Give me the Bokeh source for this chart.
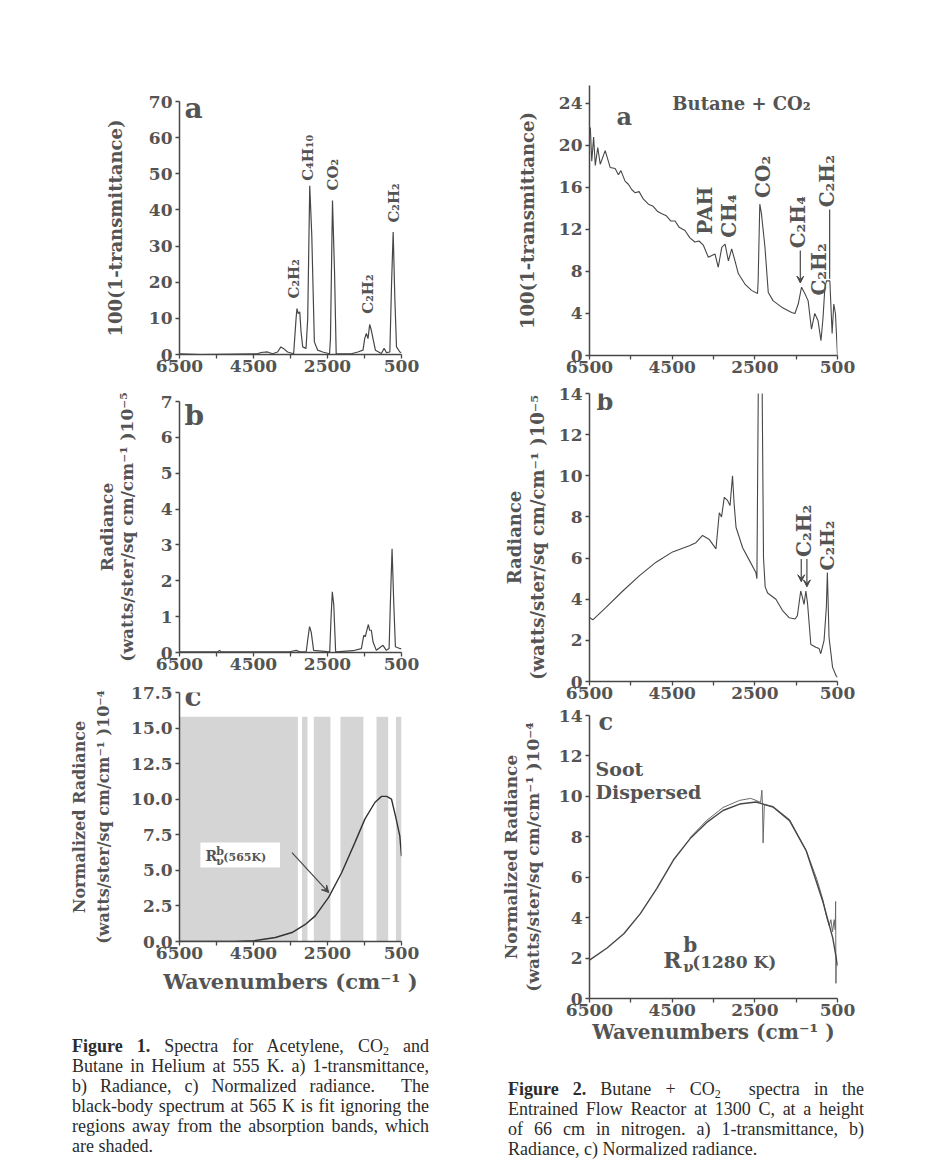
from math import pi
from bokeh.plotting import figure
from bokeh.models import (Range1d, FixedTicker, Label, Arrow, VeeHead,
                          PrintfTickFormatter, BoxAnnotation, Div)
from bokeh.layouts import column, row
from bokeh.embed import file_html
from bokeh.resources import INLINE

# ---------------- data ----------------
X_TICKS = [6500, 5500, 4500, 3500, 2500, 1500, 500]
X_TICK_LABELS = {6500: "6500", 5500: "", 4500: "4500", 3500: "", 2500: "2500", 1500: "", 500: "500"}

# Figure 1 a) 100(1-transmittance)
LA_WN = [6500, 5930, 4390, 4300, 4120, 3985, 3850, 3760, 3670, 3580, 3415, 3350, 3325, 3290, 3250,
         3215, 3170, 3080, 3035, 2980, 2925, 2855, 2765, 2630, 2445, 2420, 2365, 2310, 2265, 1860,
         1680, 1540, 1495, 1450, 1405, 1360, 1315, 1270, 1205, 1045, 970, 905, 815, 770, 725, 680,
         635, 545, 500]
LA_Y = [0.2, 0, 0.2, 0.55, 0.7, 0.2, 0.7, 2.1, 1.5, 0.7, 0.2, 9.9, 12.7, 11.3, 11.8,
        6.3, 2.1, 1.7, 9.9, 46.7, 33, 3.5, 1.2, 0.7, 0.2, 4.4, 42.6, 22.8, 0.2, 0.2,
        0.7, 1.2, 4.4, 5.8, 4.4, 8.3, 6.7, 4.4, 1.2, 0.3, 1.7, 0.5, 0.7, 19.1, 33.9, 15.5,
        2.1, 0.7, 0.5]
LA_YTICKS = [0, 10, 20, 30, 40, 50, 60, 70]

# Figure 1 b) radiance
LB_WN = [6500, 5460, 5418, 5380, 3525, 3345, 3255, 3075, 3030, 2985, 2940, 2875, 2440, 2405, 2370,
         2330, 2280, 1810, 1585, 1520, 1475, 1450, 1395, 1360, 1315, 1270, 1180, 1000, 910, 835,
         800, 755, 710, 665, 547, 500]
LB_Y = [0.02, 0.02, 0.06, 0.02, 0.02, 0.06, 0.02, 0.02, 0.39, 0.72, 0.57, 0.06, 0.02, 0.95, 1.69,
        1.32, 0.02, 0.05, 0.11, 0.48, 0.44, 0.57, 0.78, 0.62, 0.62, 0.3, 0.06, 0.2, 0.06, 0.11,
        1.41, 2.89, 1.41, 0.16, 0.11, 0.11]
LB_YTICKS = [0, 1, 2, 3, 4, 5, 6, 7]

# Figure 1 c) normalized radiance, shaded bands and black-body fit
LC_SHADE_FROM = [6500, 3190, 2870, 2150, 1175, 650]
LC_SHADE_TO = [3300, 3040, 2420, 1530, 860, 500]
LC_SHADE_TOP = [15.8, 15.8, 15.8, 15.8, 15.8, 15.8]
LC_WN = [6500, 5000, 4490, 3910, 3460, 3100, 2830, 2470, 2115, 1760, 1490, 1220, 1040, 900, 770,
         660, 545, 500]
LC_Y = [0, 0, 0.05, 0.28, 0.63, 1.2, 1.8, 3.1, 4.85, 6.95, 8.6, 9.77, 10.2, 10.2, 10.0,
        8.8, 7.4, 6.0]
LC_YTICKS = [0, 2.5, 5, 7.5, 10, 12.5, 15, 17.5]

# Figure 2 a) 100(1-transmittance)
RA_WN = [6500, 6480, 6445, 6400, 6360, 6300, 6240, 6120, 6000, 5880, 5800, 5740, 5640, 5560, 5480,
         5400, 5300, 5200, 5075, 4960, 4850, 4750, 4640, 4530, 4430, 4330, 4190, 4070, 3950, 3850,
         3745, 3625, 3465, 3385, 3300, 3220, 3140, 3060, 2980, 2900, 2740, 2580, 2435, 2420, 2380,
         2340, 2255, 2175, 2055, 1850, 1610, 1530, 1450, 1370, 1290, 1210, 1130, 1050, 970, 900,
         850, 805, 765, 685, 630, 590, 550, 500]
RA_Y = [21.4, 21.7, 18.5, 20.8, 18.1, 19.8, 18.2, 19.5, 17.9, 17.8, 17.2, 17.6, 16.6, 16.3, 15.8,
        15.5, 15.6, 14.9, 14.4, 14.2, 13.7, 13.5, 13.3, 12.8, 12.8, 12.2, 11.9, 11.2, 10.8, 10.9,
        10.5, 9.35, 9.67, 8.4, 10.3, 10.6, 9.0, 10.15, 9.0, 7.8, 6.8, 6.2, 5.9, 7.1, 14.4,
        13.5, 10.3, 6.0, 5.2, 4.6, 4.1, 4.0, 4.9, 6.5, 5.9, 5.2, 2.5, 4.0, 3.3, 1.4,
        3.6, 6.5, 7.1, 7.1, 2.1, 4.9, 4.0, 0]
RA_YTICKS = [0, 4, 8, 12, 16, 20, 24]

# Figure 2 b) radiance
RB_WN = [6500, 6420, 6100, 5695, 5290, 4890, 4490, 4085, 3925, 3765, 3600, 3440, 3360, 3305, 3240,
         3160, 3100, 3040, 3000, 2955, 2795, 2635, 2475, 2450, 2410, 2330, 2290, 2250, 2190, 1990,
         1830, 1670, 1525, 1470, 1390, 1350, 1310, 1265, 1225, 1145, 1025, 945, 905, 865, 825,
         770, 745, 705, 620, 540, 500]
RB_Y = [3.12, 3.0, 3.6, 4.4, 5.15, 5.8, 6.3, 6.6, 6.75, 7.1, 6.9, 6.45, 8.2, 8.0, 8.95,
        8.8, 8.55, 10.0, 8.6, 7.5, 6.5, 5.9, 5.3, 5.0, 16, 16, 6.0, 4.6, 4.3, 4.0,
        3.45, 3.1, 3.04, 3.2, 4.4, 4.1, 3.75, 4.4, 3.8, 1.8, 1.67, 1.6, 1.35, 1.67, 2.0,
        3.6, 5.3, 2.15, 0.7, 0.3, 0.2]
RB_YTICKS = [0, 2, 4, 6, 8, 10, 12, 14]

# Figure 2 c) normalized radiance: measured and black-body fit (1280 K)
RC_FIT_WN = [6500, 6075, 5670, 5270, 4870, 4470, 4070, 3670, 3270, 2870, 2470, 2060, 1660, 1255,
             855, 615, 500]
RC_FIT_Y = [1.9, 2.5, 3.2, 4.2, 5.45, 6.85, 7.9, 8.7, 9.3, 9.62, 9.72, 9.47, 8.8, 7.3,
            4.8, 3.0, 1.65]
RC_MEAS_WN = [4070, 3670, 3270, 2870, 2600, 2470, 2360, 2330, 2315, 2300, 2270, 2060, 1660, 1255,
              1000, 855, 760, 700, 660, 620, 580, 555, 545, 538, 530, 500]
RC_MEAS_Y = [7.95, 8.8, 9.45, 9.8, 9.9, 9.8, 9.7, 10.3, 9.6, 7.7, 9.6, 9.5, 8.85, 7.3,
             5.9, 4.9, 4.0, 3.6, 3.9, 3.3, 3.9, 3.4, 4.8, 0.75, 2.0, 1.6]
RC_YTICKS = [0, 2, 4, 6, 8, 10, 12, 14]

# ---------------- styling ----------------
FONT = "DejaVu Serif"
CAP = "Liberation Serif"
INK = "#474747"
TXT = "#545454"
CAPTXT = "#2b2b2b"


def panel(w, h, bl, br, bt, bb, ymax, yticks, ylabel, ystand, ysize=18, ylh=0.95, yfmt=None,
          xlabel=None, xsize=20, xstand=5):
    p = figure(width=w, height=h, x_range=Range1d(6500, 500), y_range=Range1d(0, ymax),
               output_backend="svg", toolbar_location=None, title=None,
               min_border_left=bl, min_border_right=br, min_border_top=bt, min_border_bottom=bb)
    p.outline_line_color = None
    p.xgrid.visible = False
    p.ygrid.visible = False
    p.background_fill_color = "white"
    p.border_fill_color = "white"
    for ax in (p.xaxis[0], p.yaxis[0]):
        ax.axis_line_color = INK
        ax.axis_line_width = 1.5
        ax.major_tick_line_color = INK
        ax.major_tick_line_width = 1.3
        ax.major_tick_in = 0
        ax.major_tick_out = 4
        ax.minor_tick_line_color = None
        ax.major_label_text_font = FONT
        ax.major_label_text_font_style = "bold"
        ax.major_label_text_color = TXT
        ax.major_label_text_font_size = "17px"
        ax.axis_label_text_font = FONT
        ax.axis_label_text_font_style = "bold"
        ax.axis_label_text_color = TXT
    p.xaxis.ticker = FixedTicker(ticks=X_TICKS)
    p.xaxis.major_label_overrides = X_TICK_LABELS
    p.xaxis.major_label_standoff = 1
    p.yaxis.ticker = FixedTicker(ticks=yticks)
    p.yaxis.major_label_standoff = 3
    if yfmt:
        p.yaxis.formatter = PrintfTickFormatter(format=yfmt)
    p.yaxis.axis_label = ylabel
    p.yaxis.axis_label_text_font_size = f"{ysize}px"
    p.yaxis.axis_label_standoff = ystand
    p.yaxis.axis_label_text_line_height = ylh
    if xlabel:
        p.xaxis.axis_label = xlabel
        p.xaxis.axis_label_text_font_size = f"{xsize}px"
        p.xaxis.axis_label_standoff = xstand
    return p


def lab(p, x, y, text, size, dx=0, dy=0, angle=0.0, align="left", base="alphabetic",
        bold=True, font=FONT, color=TXT):
    # "alphabetic" positions are given as baselines; draw them centred on the cap height
    if base == "alphabetic":
        base = "middle"
        dy = dy + 0.36 * size
    p.add_layout(Label(x=x, y=y, x_offset=dx, y_offset=dy, text=text, angle=angle,
                       text_align=align, text_baseline=base, text_font=font,
                       text_font_size=f"{size}px",
                       text_font_style="bold" if bold else "normal", text_color=color))


def arrow(p, x0, y0, x1, y1, head=True):
    end = VeeHead(size=7, fill_color=INK, line_color=INK, line_width=1) if head else None
    p.add_layout(Arrow(end=end, x_start=x0, y_start=y0, x_end=x1, y_end=y1,
                       line_color=INK, line_width=1.2))


UP = pi / 2
RAD5 = "Radiance\n(watts/ster/sq cm/cm⁻¹ )10⁻⁵"
RAD4 = "Normalized Radiance\n(watts/ster/sq cm/cm⁻¹ )10⁻⁴"
WAVE = "Wavenumbers (cm⁻¹ )"

# ---------------- Figure 1 (left column, width 468) ----------------
la = panel(468, 385, 179, 67, 101, 31, 70, LA_YTICKS, "100(1-transmittance)", 20)
la.line(LA_WN, LA_Y, color=INK, line_width=1.2)
lab(la, 6500, 70, "a", 28, dx=5, dy=-17)
for t, x, y in [("C₂H₂", 3405, 15.5), ("C₄H₁₀", 3025, 48.1), ("CO₂", 2338, 45.4),
                ("C₂H₂", 1396, 11.3), ("C₂H₂", 690, 36.5)]:
    lab(la, x, y, t, 15, angle=UP, base="middle")

lb = panel(468, 293, 179, 67, 16, 26, 7, LB_YTICKS, RAD5, 21, ysize=17, ylh=1.0)
lb.line(LB_WN, LB_Y, color=INK, line_width=1.2)
lab(lb, 6500, 7, "b", 28, dx=5, dy=-24)

lc = panel(468, 322, 179, 67, 14, 59, 17.5, LC_YTICKS, RAD4, 15, ysize=16, ylh=1.25,
           yfmt="%.1f", xlabel=WAVE, xsize=21, xstand=7)
lc.quad(left=LC_SHADE_FROM, right=LC_SHADE_TO, bottom=0, top=LC_SHADE_TOP,
        fill_color="#d5d5d5", line_color=None)
lc.line(LC_WN, LC_Y, color="#333333", line_width=1.4)
lab(lc, 6500, 17.5, "c", 28, dx=5, dy=-14)
lc.add_layout(BoxAnnotation(left=5935, right=3783, bottom=5.2, top=6.96,
                            fill_color="white", fill_alpha=1.0, line_color=None))
lab(lc, 5800, 5.62, "R", 14)
lab(lc, 5505, 6.04, "b", 11)
lab(lc, 5505, 5.34, "ν", 11)
lab(lc, 5316, 5.62, "(565K)", 11)
arrow(lc, 3460, 6.25, 2465, 3.44)

# ---------------- Figure 2 (right column, width 456) ----------------
ra = panel(456, 381, 121, 87, 85, 26, 25.7, RA_YTICKS, "100(1-transmittance)", 18)
ra.line(RA_WN, RA_Y, color=INK, line_width=1.1)
lab(ra, 6500, 24, "a", 24, dx=27, dy=-22)
lab(ra, 2822, 24, "Butane + CO₂", 18, align="center", base="middle")
for t, x, y in [("PAH", 3717, 11.5), ("CH₄", 3136, 11.2), ("CO₂", 2313, 15.0),
                ("C₂H₄", 1450, 10.2), ("C₂H₂", 958, 5.7), ("C₂H₂", 760, 14.1)]:
    lab(ra, x, y, t, 20, angle=UP, base="middle")
arrow(ra, 1400, 10.0, 1400, 6.9)
arrow(ra, 690, 13.9, 690, 7.3, head=False)

rb = panel(456, 325, 121, 87, 12, 25, 14, RB_YTICKS, RAD5, 8, ylh=1.1)
rb.line(RB_WN, RB_Y, color=INK, line_width=1.1)
lab(rb, 6500, 14, "b", 24, dx=7, dy=-17)
lab(rb, 1321, 6.05, "C₂H₂", 20, angle=UP, base="middle")
lab(rb, 760, 5.4, "C₂H₂", 19, angle=UP, base="middle")
arrow(rb, 1377, 5.95, 1377, 4.85)
arrow(rb, 1240, 5.95, 1240, 4.6)

rc = panel(456, 354, 121, 87, 9, 62, 14, RC_YTICKS, RAD4, 13, ysize=17, ylh=1.1,
           xlabel=WAVE, xsize=20, xstand=1)
rc.line(RC_MEAS_WN, RC_MEAS_Y, color="#6a6a6a", line_width=1.0)
rc.line(RC_FIT_WN, RC_FIT_Y, color=INK, line_width=1.4)
lab(rc, 6500, 14, "c", 24, dx=9, dy=-15)
lab(rc, 6355, 11.0, "Soot", 19)
lab(rc, 6355, 9.9, "Dispersed", 19)
lab(rc, 4717, 1.49, "R", 22)
lab(rc, 4234, 2.28, "b", 20)
lab(rc, 4234, 1.29, "ν", 15)
lab(rc, 4017, 1.49, "(1280 K)", 17)


# ---------------- captions ----------------
SUB2 = '<sub style="font-size:12px;line-height:0;vertical-align:-3px">2</sub>'


def caption(w, h, left, top, text_w, lines):
    rows = []
    for i, txt in enumerate(lines):
        last = i == len(lines) - 1
        align = "left" if last else "justify"
        rows.append(f'<div style="margin:0;padding:0;height:20px;white-space:normal;'
                    f'text-align:justify;text-align-last:{align};">{txt}</div>')
    html = (f'<div style="position:relative;width:{w}px;height:{h}px;margin:0;">'
            f'<div style="position:absolute;left:{left}px;top:{top}px;width:{text_w}px;'
            f"font-family:'{CAP}';font-size:18px;line-height:20px;color:{CAPTXT};\">"
            + "".join(rows) + "</div></div>")
    return Div(text=html, width=w, height=h, margin=(0, 0, 0, 0))


cap1 = caption(468, 160, 72, 36, 357, [
    f"<b>Figure 1.</b> Spectra for Acetylene, CO{SUB2} and",
    "Butane in Helium at 555 K. a) 1-transmittance,",
    "b) Radiance, c) Normalized radiance. &nbsp;The",
    "black-body spectrum at 565 K is fit ignoring the",
    "regions away from the absorption bands, which",
    "are shaded.",
])
cap2 = caption(456, 100, 40, 19, 356, [
    f"<b>Figure 2.</b> Butane + CO{SUB2} &nbsp;spectra in the",
    "Entrained Flow Reactor at 1300 C, at a height",
    "of 66 cm in nitrogen. a) 1-transmittance, b)",
    "Radiance, c) Normalized radiance.",
])

layout = row(column(la, lb, lc, cap1), column(ra, rb, rc, cap2))

open("out.html", "w").write(file_html(layout, INLINE))
